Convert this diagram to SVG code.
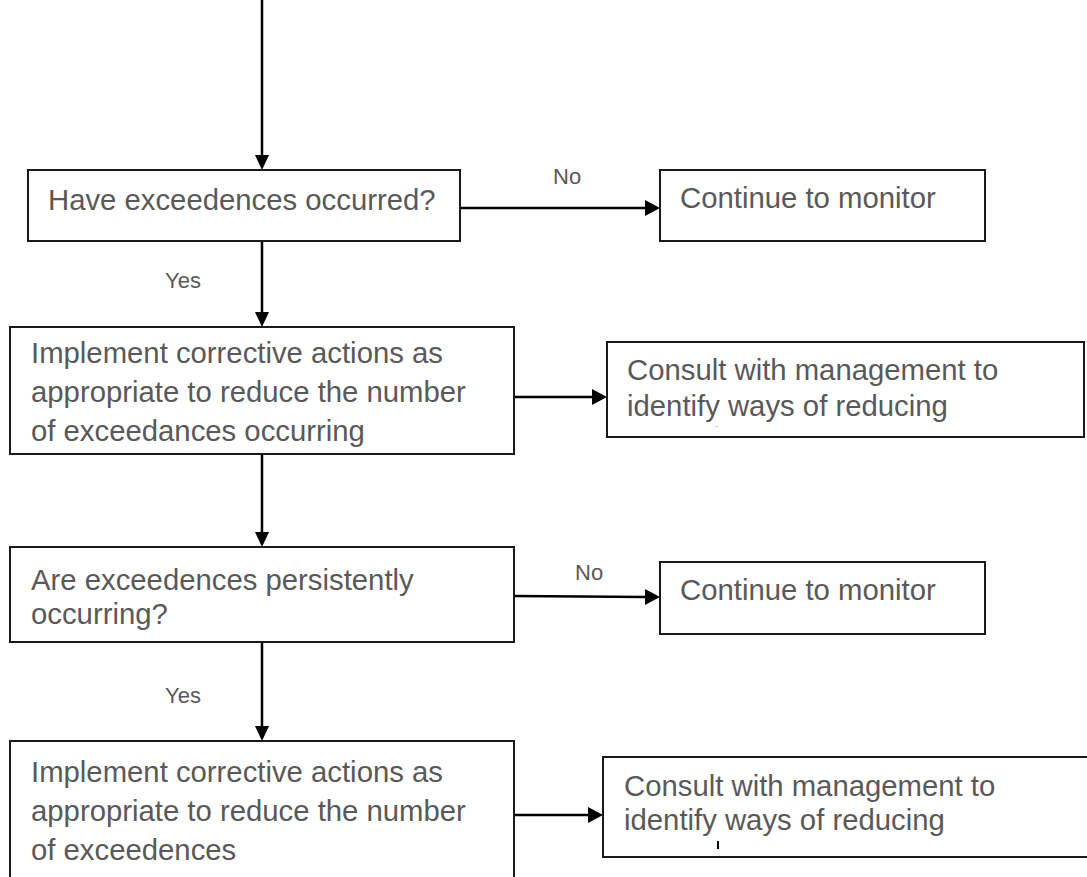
<svg xmlns="http://www.w3.org/2000/svg" width="1087" height="877" viewBox="0 0 1087 877">
<style>
.box{fill:#fff;stroke:#1a1a1a;stroke-width:2}
.t{font-family:"Liberation Sans",Arial,sans-serif;font-size:29.3px;fill:#595959}
.l{font-family:"Liberation Sans",Arial,sans-serif;font-size:22px;fill:#595959}
.ln{stroke:#000;stroke-width:2.5;fill:none}
.ah{fill:#000}
</style>
<rect width="1087" height="877" fill="#fff"/>
<g id="connectors">
<line class="ln" x1="262" y1="0" x2="262" y2="156"/>
<path class="ah" d="M255,155 L262,170 L269,155 Z"/>
<line class="ln" x1="460" y1="208" x2="646" y2="208"/>
<path class="ah" d="M645,200 L660,208 L645,216 Z"/>
<line class="ln" x1="262" y1="241" x2="262" y2="313"/>
<path class="ah" d="M255,312 L262,327 L269,312 Z"/>
<line class="ln" x1="514" y1="397" x2="593" y2="397"/>
<path class="ah" d="M592,389 L607,397 L592,405 Z"/>
<line class="ln" x1="262" y1="454" x2="262" y2="533"/>
<path class="ah" d="M255,532 L262,547 L269,532 Z"/>
<line class="ln" x1="514" y1="596" x2="646" y2="597"/>
<path class="ah" d="M645,589 L660,597 L645,605 Z"/>
<line class="ln" x1="262" y1="642" x2="262" y2="727"/>
<path class="ah" d="M255,726 L262,741 L269,726 Z"/>
<line class="ln" x1="514" y1="815" x2="589" y2="815"/>
<path class="ah" d="M588,807 L603,815 L588,823 Z"/>
<text class="l" x="553" y="184">No</text>
<text class="l" x="165" y="288">Yes</text>
<text class="l" x="575" y="580">No</text>
<text class="l" x="165" y="703">Yes</text>
</g>
<g id="n1">
<rect class="box" x="28" y="170" width="432" height="71"/>
<text class="t" x="48" y="210">Have exceedences occurred?</text>
</g>
<g id="n2">
<rect class="box" x="660" y="170" width="325" height="71"/>
<text class="t" x="680" y="208">Continue to monitor</text>
</g>
<g id="n3">
<rect class="box" x="10" y="327" width="504" height="127"/>
<text class="t" x="31" y="363">Implement corrective actions as</text>
<text class="t" x="31" y="402">appropriate to reduce the number</text>
<text class="t" x="31" y="441">of exceedances occurring</text>
</g>
<g id="n4">
<rect class="box" x="607" y="342" width="477" height="95"/>
<text class="t" x="627" y="380">Consult with management to</text>
<text class="t" x="627" y="416">identify ways of reducing</text>
<rect x="715" y="426" width="3" height="1" fill="#ccc"/>
</g>
<g id="n5">
<rect class="box" x="10" y="547" width="504" height="95"/>
<text class="t" x="31" y="590">Are exceedences persistently</text>
<text class="t" x="31" y="624">occurring?</text>
</g>
<g id="n6">
<rect class="box" x="660" y="562" width="325" height="72"/>
<text class="t" x="680" y="600">Continue to monitor</text>
</g>
<g id="n7">
<rect class="box" x="10" y="741" width="504" height="150"/>
<text class="t" x="31" y="782">Implement corrective actions as</text>
<text class="t" x="31" y="821">appropriate to reduce the number</text>
<text class="t" x="31" y="860">of exceedences</text>
</g>
<g id="n8">
<rect class="box" x="603" y="757" width="490" height="100"/>
<text class="t" x="624" y="796">Consult with management to</text>
<text class="t" x="624" y="830">identify ways of reducing</text>
<rect x="717" y="841" width="2" height="8" fill="#000"/>
</g>
</svg>
